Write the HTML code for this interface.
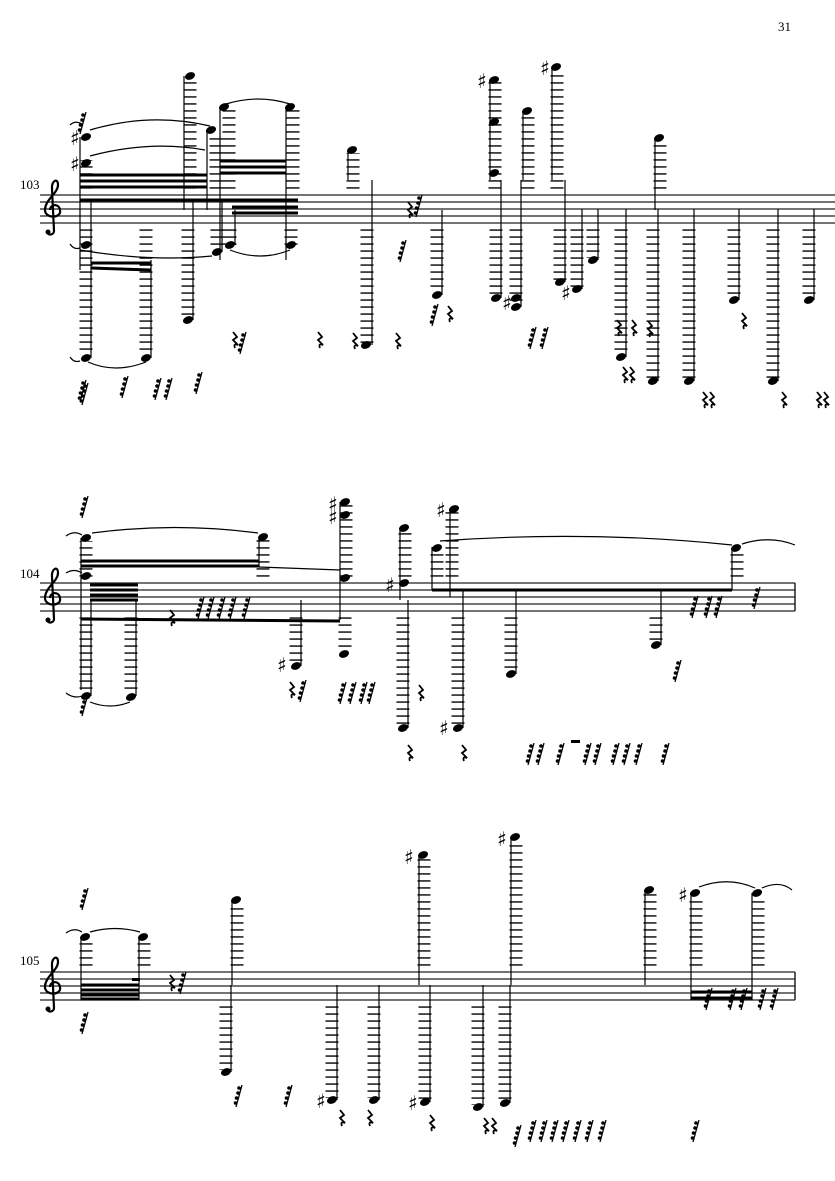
<!DOCTYPE html>
<html><head><meta charset="utf-8"><style>
body{margin:0;background:#fff}
svg{display:block}
.sl{stroke:#222;stroke-width:1.2}
.lg{stroke:#000;stroke-width:13;stroke-dasharray:1.4 5.6;fill:none}
.sm{stroke:#000;stroke-width:1.2}
.bm{stroke:#000;stroke-width:3}
.tie{fill:none;stroke:#000;stroke-width:1.2}
text{font-family:"DejaVu Serif","Liberation Serif",serif;font-size:13px}
text.s{font-size:20px}
</style></head><body>
<svg width="835" height="1181" viewBox="0 0 835 1181" xmlns="http://www.w3.org/2000/svg">
<defs>
<g id="r"><line x1="0" y1="22" x2="6" y2="0" stroke="#000" stroke-width="1.3"/><circle cx="3" cy="3" r="1.8"/><circle cx="2" cy="8" r="1.8"/><circle cx="0.5" cy="13" r="1.8"/><circle cx="-0.5" cy="18" r="1.8"/></g>
<path id="q" d="M0 0 L4 5 L0 8 L5 13 Q0 11 2 16" fill="none" stroke="#000" stroke-width="1.8"/>
<ellipse id="h" rx="5.2" ry="3.6" transform="rotate(-22)"/>
<g id="cl"><path d="M14 22 C14 26 8 27 7 23 M14 22 L12 -20 C11 -28 18 -32 18 -24 C18 -16 6 -10 5 0 C4 10 22 10 20 1 C19 -6 10 -5 10 1" fill="none" stroke="#000" stroke-width="2.2"/><circle cx="8" cy="23" r="2.5"/></g>
</defs>
<text x="778" y="31" font-size="14" style="font-family:'Liberation Serif',serif">31</text>

<!-- STAFF 1 -->
<text x="20" y="189" font-size="10" style="font-family:'Liberation Serif',serif">103</text>
<g class="sl"><line x1="40" y1="195" x2="835" y2="195"/><line x1="40" y1="202" x2="835" y2="202"/><line x1="40" y1="209" x2="835" y2="209"/><line x1="40" y1="216" x2="835" y2="216"/><line x1="40" y1="223" x2="835" y2="223"/></g>
<use href="#cl" x="40" y="209"/>
<g>
<line class="lg" x1="86" y1="188.6" x2="86" y2="160"/><line class="sm" x1="80" y1="137" x2="80" y2="270"/><use href="#h" x="86" y="137"/><use href="#h" x="86" y="163"/>
<line class="lg" x1="190" y1="188.6" x2="190" y2="78"/><line class="sm" x1="184" y1="76" x2="184" y2="210"/><use href="#h" x="190" y="76"/>
<line class="lg" x1="216" y1="188.6" x2="216" y2="133"/><line class="sm" x1="207" y1="130" x2="207" y2="210"/><use href="#h" x="211" y="130"/>
<line class="lg" x1="229" y1="188.6" x2="229" y2="110"/><line class="sm" x1="220" y1="107" x2="220" y2="260"/><use href="#h" x="224" y="107"/>
<line class="lg" x1="293" y1="188.6" x2="293" y2="110"/><line class="sm" x1="286" y1="107" x2="286" y2="260"/><use href="#h" x="290" y="107"/>
<line class="lg" x1="353" y1="188.6" x2="353" y2="153"/><line class="sm" x1="348" y1="150" x2="348" y2="180"/><use href="#h" x="352" y="150"/>
<line class="lg" x1="495" y1="188.6" x2="495" y2="82"/><line class="sm" x1="490" y1="80" x2="490" y2="180"/><use href="#h" x="494" y="80"/><use href="#h" x="494" y="122"/><use href="#h" x="494" y="173"/>
<line class="lg" x1="528" y1="188.6" x2="528" y2="113"/><line class="sm" x1="523" y1="111" x2="523" y2="180"/><use href="#h" x="527" y="111"/>
<line class="lg" x1="557" y1="188.6" x2="557" y2="70"/><line class="sm" x1="552" y1="67" x2="552" y2="180"/><use href="#h" x="556" y="67"/>
<line class="lg" x1="660" y1="188.6" x2="660" y2="141"/><line class="sm" x1="655" y1="138" x2="655" y2="210"/><use href="#h" x="659" y="138"/>
</g>
<text class="s" x="70" y="171">♯</text><text class="s" x="70" y="145">♯</text><text class="s" x="477" y="88">♯</text><text class="s" x="540" y="75">♯</text>
<line class="bm" x1="80" y1="175" x2="207" y2="175"/><line class="bm" x1="80" y1="181" x2="207" y2="181"/><line class="bm" x1="80" y1="187" x2="207" y2="187"/>
<line class="bm" x1="220" y1="161" x2="286" y2="161"/><line class="bm" x1="220" y1="167" x2="286" y2="167"/><line class="bm" x1="220" y1="173" x2="286" y2="173"/>
<line class="bm" x1="80" y1="200" x2="298" y2="200"/><line class="bm" x1="232" y1="207" x2="298" y2="207"/><line class="bm" x1="232" y1="213" x2="298" y2="213"/>
<path class="tie" d="M90 130 Q150 112 210 126"/><path class="tie" d="M90 156 Q150 140 205 150"/><path class="tie" d="M226 104 Q258 94 290 104"/>
<g>
<line class="lg" x1="86" y1="229.4" x2="86" y2="355"/><line class="sm" x1="91" y1="200" x2="91" y2="358"/><use href="#h" x="86" y="245"/><use href="#h" x="86" y="358"/>
<line class="lg" x1="146" y1="229.4" x2="146" y2="355"/><line class="sm" x1="151" y1="260" x2="151" y2="358"/><use href="#h" x="146" y="358"/>
<line class="lg" x1="188" y1="229.4" x2="188" y2="318"/><line class="sm" x1="193" y1="200" x2="193" y2="320"/><use href="#h" x="188" y="320"/>
<line class="lg" x1="217" y1="229.4" x2="217" y2="250"/><line class="sm" x1="222" y1="200" x2="222" y2="252"/><use href="#h" x="217" y="252"/>
<line class="lg" x1="230" y1="229.4" x2="230" y2="245"/><line class="sm" x1="235" y1="210" x2="235" y2="245"/><use href="#h" x="230" y="245"/>
<line class="lg" x1="291" y1="229.4" x2="291" y2="245"/><use href="#h" x="291" y="245"/>
<line class="lg" x1="367" y1="229.4" x2="367" y2="343"/><line class="sm" x1="372" y1="180" x2="372" y2="345"/><use href="#h" x="366" y="345"/>
<line class="lg" x1="437" y1="229.4" x2="437" y2="292"/><line class="sm" x1="442" y1="210" x2="442" y2="295"/><use href="#h" x="437" y="295"/>
<line class="lg" x1="496" y1="229.4" x2="496" y2="296"/><line class="sm" x1="501" y1="180" x2="501" y2="298"/><use href="#h" x="496" y="298"/>
<line class="lg" x1="516" y1="229.4" x2="516" y2="305"/><line class="sm" x1="521" y1="180" x2="521" y2="307"/><use href="#h" x="516" y="298"/><use href="#h" x="516" y="307"/>
<line class="lg" x1="560" y1="229.4" x2="560" y2="280"/><line class="sm" x1="565" y1="180" x2="565" y2="282"/><use href="#h" x="560" y="282"/>
<line class="lg" x1="577" y1="229.4" x2="577" y2="287"/><line class="sm" x1="582" y1="209" x2="582" y2="289"/><use href="#h" x="577" y="289"/>
<line class="lg" x1="593" y1="229.4" x2="593" y2="258"/><line class="sm" x1="598" y1="209" x2="598" y2="260"/><use href="#h" x="593" y="260"/>
<line class="lg" x1="621" y1="229.4" x2="621" y2="355"/><line class="sm" x1="626" y1="209" x2="626" y2="357"/><use href="#h" x="621" y="357"/>
<line class="lg" x1="653" y1="229.4" x2="653" y2="379"/><line class="sm" x1="658" y1="209" x2="658" y2="381"/><use href="#h" x="653" y="381"/>
<line class="lg" x1="689" y1="229.4" x2="689" y2="379"/><line class="sm" x1="694" y1="209" x2="694" y2="381"/><use href="#h" x="689" y="381"/>
<line class="lg" x1="734" y1="229.4" x2="734" y2="298"/><line class="sm" x1="739" y1="209" x2="739" y2="300"/><use href="#h" x="734" y="300"/>
<line class="lg" x1="773" y1="229.4" x2="773" y2="379"/><line class="sm" x1="778" y1="209" x2="778" y2="381"/><use href="#h" x="773" y="381"/>
<line class="lg" x1="809" y1="229.4" x2="809" y2="298"/><line class="sm" x1="814" y1="209" x2="814" y2="300"/><use href="#h" x="809" y="300"/>
</g>
<line class="bm" x1="91" y1="263" x2="151" y2="263"/><line class="bm" x1="91" y1="268" x2="151" y2="270"/>
<path class="tie" d="M80 250 Q150 262 212 256"/><path class="tie" d="M230 250 Q260 262 290 250"/><path class="tie" d="M88 362 Q115 374 146 362"/>
<path class="tie" d="M70 244 Q74 250 80 248"/><path class="tie" d="M70 357 Q74 363 80 361"/><path class="tie" d="M70 125 Q75 120 82 124"/>
<text class="s" x="502" y="310">♯</text><text class="s" x="561" y="300">♯</text>
<g>
<use href="#r" x="80" y="112"/><use href="#r" x="80" y="380"/><use href="#r" x="82" y="383"/><use href="#r" x="122" y="376"/><use href="#r" x="155" y="378"/><use href="#r" x="166" y="378"/><use href="#r" x="196" y="372"/>
<use href="#r" x="240" y="332"/><use href="#r" x="400" y="240"/><use href="#r" x="432" y="304"/><use href="#r" x="530" y="327"/><use href="#r" x="542" y="327"/><use href="#r" x="416" y="195"/>
<use href="#q" x="233" y="332"/><use href="#q" x="318" y="332"/><use href="#q" x="353" y="333"/><use href="#q" x="396" y="333"/><use href="#q" x="448" y="306"/><use href="#q" x="617" y="320"/><use href="#q" x="632" y="320"/><use href="#q" x="623" y="367"/><use href="#q" x="630" y="367"/><use href="#q" x="648" y="321"/><use href="#q" x="703" y="392"/><use href="#q" x="710" y="392"/><use href="#q" x="742" y="313"/><use href="#q" x="782" y="392"/><use href="#q" x="817" y="392"/><use href="#q" x="824" y="392"/><use href="#q" x="408" y="202"/>
</g>

<!-- STAFF 2 -->
<text x="20" y="578" font-size="10" style="font-family:'Liberation Serif',serif">104</text>
<g class="sl"><line x1="40" y1="583" x2="795" y2="583"/><line x1="40" y1="590" x2="795" y2="590"/><line x1="40" y1="597" x2="795" y2="597"/><line x1="40" y1="604" x2="795" y2="604"/><line x1="40" y1="611" x2="795" y2="611"/><line x1="795" y1="583" x2="795" y2="611" stroke-width="1.5"/></g>
<use href="#cl" x="40" y="597"/>
<g>
<line class="lg" x1="86" y1="576.6" x2="86" y2="541"/><line class="sm" x1="81" y1="538" x2="81" y2="690"/><use href="#h" x="86" y="538"/><use href="#h" x="86" y="576"/>
<line class="lg" x1="263" y1="576.6" x2="263" y2="540"/><line class="sm" x1="259" y1="537" x2="259" y2="567"/><use href="#h" x="263" y="537"/>
<line class="lg" x1="346" y1="576.6" x2="346" y2="505"/><line class="sm" x1="340" y1="502" x2="340" y2="620"/><use href="#h" x="345" y="502"/><use href="#h" x="345" y="515"/><use href="#h" x="345" y="578"/>
<line class="lg" x1="405" y1="576.6" x2="405" y2="530"/><line class="sm" x1="400" y1="528" x2="400" y2="600"/><use href="#h" x="404" y="528"/><use href="#h" x="404" y="583"/>
<line class="lg" x1="437" y1="576.6" x2="437" y2="550"/><line class="sm" x1="432" y1="547" x2="432" y2="590"/><use href="#h" x="437" y="548"/>
<line class="lg" x1="452" y1="576.6" x2="452" y2="512"/><line class="sm" x1="450" y1="509" x2="450" y2="597"/><use href="#h" x="454" y="509"/>
<line class="lg" x1="737" y1="576.6" x2="737" y2="551"/><line class="sm" x1="732" y1="548" x2="732" y2="590"/><use href="#h" x="736" y="548"/>
</g>
<text class="s" x="328" y="524">♯</text><text class="s" x="328" y="511">♯</text><text class="s" x="436" y="517">♯</text><text class="s" x="385" y="592">♯</text>
<line class="bm" x1="81" y1="619" x2="340" y2="621"/><line class="bm" x1="90" y1="585" x2="138" y2="585"/><line class="bm" x1="90" y1="590" x2="138" y2="590"/><line class="bm" x1="90" y1="595" x2="138" y2="595"/><line class="bm" x1="90" y1="600" x2="138" y2="600"/>
<line class="bm" x1="81" y1="561" x2="259" y2="561"/><line class="bm" x1="81" y1="566" x2="259" y2="566"/><line class="sm" x1="259" y1="567" x2="340" y2="570"/>
<line class="bm" x1="432" y1="590" x2="732" y2="590"/>
<path class="tie" d="M92 533 Q175 522 258 533"/><path class="tie" d="M440 541 Q590 530 732 545"/><path class="tie" d="M742 544 Q770 535 795 545"/><path class="tie" d="M66 536 Q74 530 82 535"/><path class="tie" d="M66 573 Q74 568 82 573"/><path class="tie" d="M66 693 Q74 699 82 696"/>
<g>
<line class="lg" x1="86" y1="617.4" x2="86" y2="694"/><line class="sm" x1="91" y1="600" x2="91" y2="696"/><use href="#h" x="86" y="696"/>
<line class="lg" x1="131" y1="617.4" x2="131" y2="694"/><line class="sm" x1="136" y1="600" x2="136" y2="696"/><use href="#h" x="131" y="697"/>
<line class="lg" x1="296" y1="617.4" x2="296" y2="664"/><line class="sm" x1="301" y1="600" x2="301" y2="666"/><use href="#h" x="296" y="666"/>
<line class="lg" x1="345" y1="617.4" x2="345" y2="652"/><use href="#h" x="344" y="654"/>
<line class="lg" x1="403" y1="617.4" x2="403" y2="726"/><line class="sm" x1="408" y1="600" x2="408" y2="728"/><use href="#h" x="403" y="728"/>
<line class="lg" x1="458" y1="617.4" x2="458" y2="726"/><line class="sm" x1="463" y1="590" x2="463" y2="728"/><use href="#h" x="458" y="728"/>
<line class="lg" x1="511" y1="617.4" x2="511" y2="672"/><line class="sm" x1="516" y1="590" x2="516" y2="674"/><use href="#h" x="511" y="674"/>
<line class="lg" x1="656" y1="617.4" x2="656" y2="643"/><line class="sm" x1="661" y1="590" x2="661" y2="645"/><use href="#h" x="656" y="645"/>
</g>
<text class="s" x="277" y="672">♯</text><text class="s" x="439" y="735">♯</text><path class="tie" d="M90 702 Q110 710 130 702"/>
<g>
<use href="#r" x="82" y="496"/><use href="#r" x="82" y="694"/><use href="#r" x="198" y="597"/><use href="#r" x="208" y="597"/><use href="#r" x="219" y="597"/><use href="#r" x="230" y="597"/><use href="#r" x="244" y="597"/>
<use href="#r" x="300" y="680"/><use href="#r" x="340" y="682"/><use href="#r" x="350" y="682"/><use href="#r" x="361" y="682"/><use href="#r" x="369" y="682"/>
<use href="#r" x="528" y="743"/><use href="#r" x="538" y="743"/><use href="#r" x="558" y="743"/><use href="#r" x="585" y="743"/><use href="#r" x="595" y="743"/><use href="#r" x="613" y="743"/><use href="#r" x="624" y="743"/><use href="#r" x="636" y="743"/><use href="#r" x="663" y="743"/>
<use href="#r" x="675" y="660"/><use href="#r" x="692" y="596"/><use href="#r" x="706" y="596"/><use href="#r" x="716" y="596"/><use href="#r" x="754" y="587"/>
<use href="#q" x="170" y="610"/><use href="#q" x="290" y="682"/><use href="#q" x="419" y="685"/><use href="#q" x="408" y="745"/><use href="#q" x="462" y="745"/>
</g>
<rect x="571" y="740" width="9" height="3"/>

<!-- STAFF 3 -->
<text x="20" y="965" font-size="10" style="font-family:'Liberation Serif',serif">105</text>
<g class="sl"><line x1="40" y1="972" x2="795" y2="972"/><line x1="40" y1="979" x2="795" y2="979"/><line x1="40" y1="986" x2="795" y2="986"/><line x1="40" y1="993" x2="795" y2="993"/><line x1="40" y1="1000" x2="795" y2="1000"/><line x1="795" y1="972" x2="795" y2="1000" stroke-width="1.5"/></g>
<use href="#cl" x="40" y="986"/>
<g>
<line class="lg" x1="86" y1="965.6" x2="86" y2="940"/><line class="sm" x1="81" y1="937" x2="81" y2="1000"/><use href="#h" x="85" y="937"/>
<line class="lg" x1="144" y1="965.6" x2="144" y2="940"/><line class="sm" x1="139" y1="937" x2="139" y2="1000"/><use href="#h" x="143" y="937"/>
<line class="lg" x1="237" y1="965.6" x2="237" y2="903"/><line class="sm" x1="232" y1="900" x2="232" y2="985"/><use href="#h" x="236" y="900"/>
<line class="lg" x1="424" y1="965.6" x2="424" y2="858"/><line class="sm" x1="419" y1="855" x2="419" y2="985"/><use href="#h" x="423" y="855"/>
<line class="lg" x1="516" y1="965.6" x2="516" y2="840"/><line class="sm" x1="511" y1="837" x2="511" y2="985"/><use href="#h" x="515" y="837"/>
<line class="lg" x1="650" y1="965.6" x2="650" y2="893"/><line class="sm" x1="645" y1="890" x2="645" y2="985"/><use href="#h" x="649" y="890"/>
<line class="lg" x1="696" y1="965.6" x2="696" y2="896"/><line class="sm" x1="691" y1="893" x2="691" y2="1000"/><use href="#h" x="695" y="893"/>
<line class="lg" x1="758" y1="965.6" x2="758" y2="896"/><line class="sm" x1="752" y1="893" x2="752" y2="1000"/><use href="#h" x="757" y="893"/>
</g>
<text class="s" x="404" y="864">♯</text><text class="s" x="497" y="846">♯</text><text class="s" x="678" y="902">♯</text>
<line class="bm" x1="81" y1="985" x2="139" y2="985"/><line class="bm" x1="81" y1="990" x2="139" y2="990"/><line class="bm" x1="81" y1="995" x2="139" y2="995"/><line class="bm" x1="81" y1="999" x2="139" y2="999"/><rect x="132" y="978" width="8" height="3"/>
<line class="bm" x1="691" y1="992" x2="752" y2="992"/><line class="bm" x1="691" y1="998" x2="752" y2="998"/>
<path class="tie" d="M90 932 Q115 925 140 932"/><path class="tie" d="M699 887 Q728 876 755 888"/><path class="tie" d="M762 888 Q780 880 792 890"/><path class="tie" d="M66 933 Q74 927 82 932"/>
<g>
<line class="lg" x1="226" y1="1006.4" x2="226" y2="1070"/><line class="sm" x1="231" y1="985" x2="231" y2="1072"/><use href="#h" x="226" y="1072"/>
<line class="lg" x1="332" y1="1006.4" x2="332" y2="1098"/><line class="sm" x1="337" y1="985" x2="337" y2="1100"/><use href="#h" x="332" y="1100"/>
<line class="lg" x1="374" y1="1006.4" x2="374" y2="1098"/><line class="sm" x1="379" y1="985" x2="379" y2="1100"/><use href="#h" x="374" y="1100"/>
<line class="lg" x1="425" y1="1006.4" x2="425" y2="1100"/><line class="sm" x1="430" y1="985" x2="430" y2="1102"/><use href="#h" x="425" y="1102"/>
<line class="lg" x1="478" y1="1006.4" x2="478" y2="1105"/><line class="sm" x1="483" y1="985" x2="483" y2="1107"/><use href="#h" x="478" y="1107"/>
<line class="lg" x1="505" y1="1006.4" x2="505" y2="1101"/><line class="sm" x1="510" y1="985" x2="510" y2="1103"/><use href="#h" x="505" y="1103"/>
</g>
<text class="s" x="316" y="1108">♯</text><text class="s" x="408" y="1110">♯</text>
<g>
<use href="#r" x="82" y="888"/><use href="#r" x="82" y="1012"/><use href="#r" x="180" y="972"/>
<use href="#r" x="236" y="1085"/><use href="#r" x="286" y="1085"/><use href="#r" x="515" y="1125"/><use href="#r" x="530" y="1120"/><use href="#r" x="541" y="1120"/><use href="#r" x="552" y="1120"/><use href="#r" x="563" y="1120"/><use href="#r" x="575" y="1120"/><use href="#r" x="587" y="1120"/><use href="#r" x="600" y="1120"/>
<use href="#r" x="693" y="1120"/><use href="#r" x="706" y="988"/><use href="#r" x="730" y="988"/><use href="#r" x="741" y="988"/><use href="#r" x="760" y="988"/><use href="#r" x="772" y="988"/>
<use href="#q" x="170" y="975"/><use href="#q" x="340" y="1110"/><use href="#q" x="368" y="1110"/><use href="#q" x="430" y="1115"/><use href="#q" x="484" y="1118"/><use href="#q" x="492" y="1118"/>
</g>
</svg>
</body></html>
